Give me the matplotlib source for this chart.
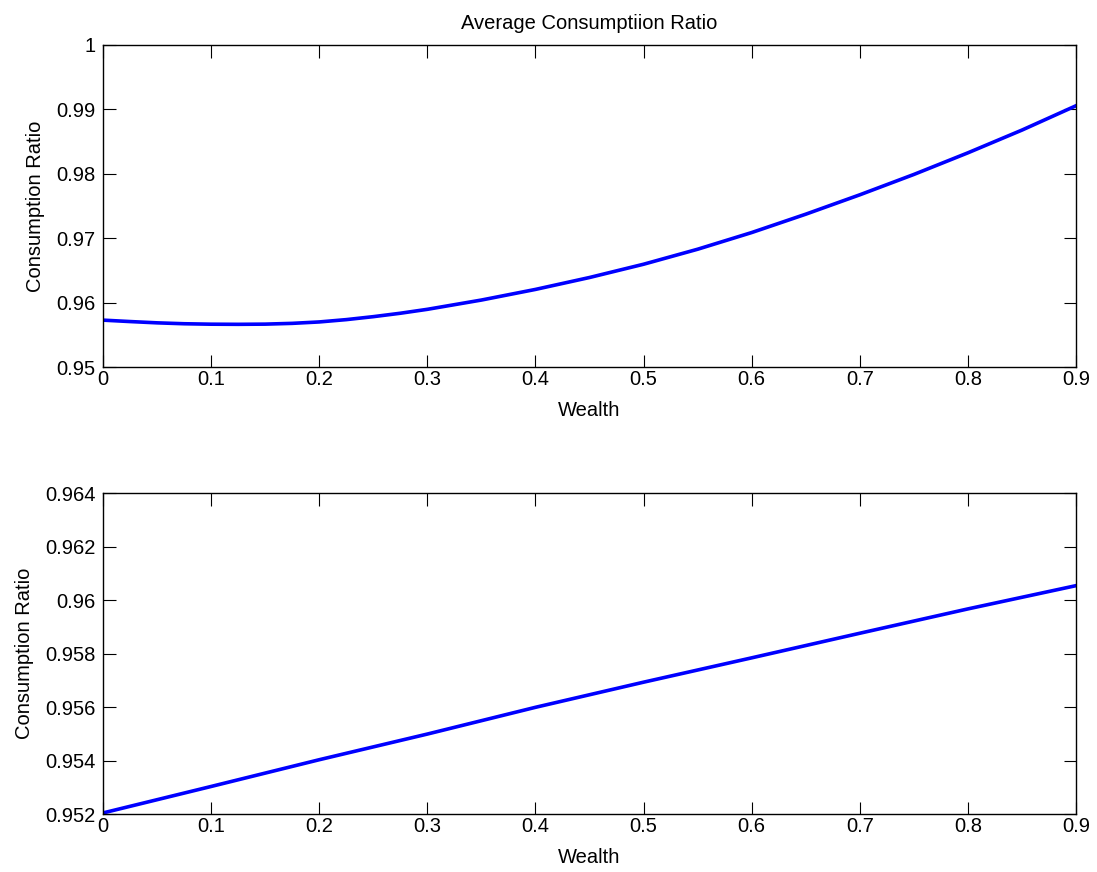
import matplotlib
matplotlib.use("Agg")
import matplotlib.pyplot as plt

plt.rcParams['font.family'] = ['Liberation Sans', 'DejaVu Sans']

# datos
wealth = [0, 0.025, 0.05, 0.075, 0.1, 0.125, 0.15, 0.175, 0.2, 0.225, 0.25,
          0.275, 0.3, 0.35, 0.4, 0.45, 0.5, 0.55, 0.6, 0.65, 0.7, 0.75,
          0.8, 0.85, 0.9]
ratio_top = [0.95728, 0.95706, 0.95686, 0.95672, 0.95665, 0.95663, 0.95666,
             0.95678, 0.95700, 0.95736, 0.95782, 0.95835, 0.95896, 0.96040,
             0.96205, 0.96390, 0.96596, 0.96829, 0.97088, 0.97373, 0.97674,
             0.97990, 0.98326, 0.98679, 0.99057]
wealth_bot = [0, 0.1, 0.2, 0.3, 0.4, 0.5, 0.6, 0.7, 0.8, 0.9]
ratio_bot = [0.95204, 0.95303, 0.95403, 0.95499, 0.95599, 0.95693, 0.95784,
             0.95876, 0.95967, 0.96054]

xticks = [0, 0.1, 0.2, 0.3, 0.4, 0.5, 0.6, 0.7, 0.8, 0.9]
xlabels = ['0', '0.1', '0.2', '0.3', '0.4', '0.5', '0.6', '0.7', '0.8', '0.9']
yticks_top = [0.95, 0.96, 0.97, 0.98, 0.99, 1.0]
ylabels_top = ['0.95', '0.96', '0.97', '0.98', '0.99', '1']
yticks_bot = [0.952, 0.954, 0.956, 0.958, 0.96, 0.962, 0.964]
ylabels_bot = ['0.952', '0.954', '0.956', '0.958', '0.96', '0.962', '0.964']

fs = 14.5

fig = plt.figure(figsize=(10.97, 8.72), dpi=100)
ax1 = fig.add_axes([0.0939, 0.5791, 0.887, 0.3693])
ax2 = fig.add_axes([0.0939, 0.0665, 0.887, 0.368])


def estilo(ax, yt, yl):
    ax.set_xlim(0, 0.9)
    ax.set_ylim(yt[0], yt[-1])
    ax.set_xticks(xticks)
    ax.set_xticklabels(xlabels)
    ax.set_yticks(yt)
    ax.set_yticklabels(yl)
    ax.tick_params(direction='in', length=9, width=0.8, top=True, right=True,
                   labelsize=fs)
    ax.tick_params(axis='x', pad=2.5)
    ax.tick_params(axis='y', pad=5.5)
    for s in ax.spines.values():
        s.set_linewidth(1.0)
    ax.set_xlabel('Wealth', fontsize=fs, labelpad=8.5)
    ax.set_ylabel('Consumption Ratio', fontsize=fs, labelpad=8)


ax1.plot(wealth, ratio_top, color=(0, 0, 1), linewidth=2.6,
         solid_joinstyle='round')
estilo(ax1, yticks_top, ylabels_top)
ax1.set_title('Average Consumptiion Ratio', fontsize=fs, pad=11.5)

ax2.plot(wealth_bot, ratio_bot, color=(0, 0, 1), linewidth=2.6,
         solid_joinstyle='round')
estilo(ax2, yticks_bot, ylabels_bot)

fig.savefig('out.png', dpi=100)
